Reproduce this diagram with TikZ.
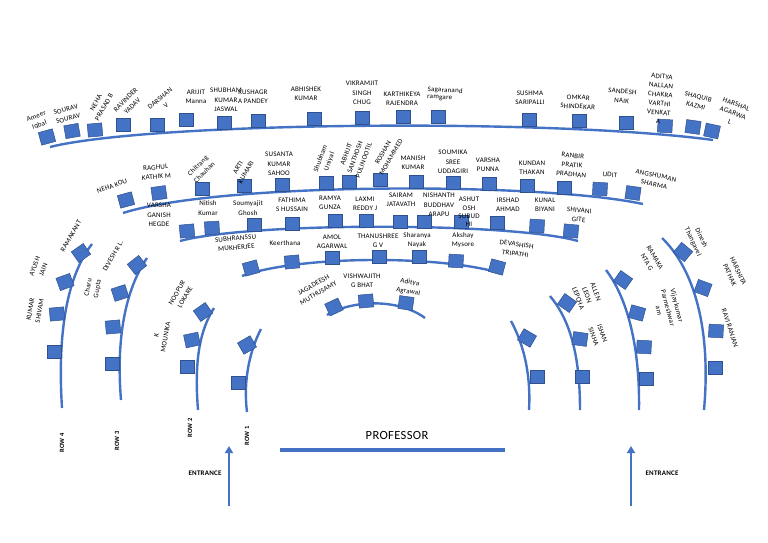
\documentclass[tikz,border=0pt]{standalone}
\usepackage{fontspec}
\setmainfont{Carlito}[LetterSpace=3]
\usetikzlibrary{arrows.meta}
\definecolor{seatblue}{HTML}{4472C4}
\definecolor{seatedge}{HTML}{2F528F}
\definecolor{lineblue}{HTML}{4472C4}
\newcommand{\lblfont}{\fontsize{7}{9.3}\selectfont}
\begin{document}
\begin{tikzpicture}[x=1pt,y=-1pt,
  seat/.style={draw=seatedge, fill=seatblue, minimum width=14.5pt, minimum height=13pt, inner sep=0pt, line width=0.5pt},
  rowline/.style={draw=lineblue, line width=2.4pt},
  lbl/.style={font=\lblfont, align=center, inner sep=0pt, text=black},
  rowlbl/.style={font=\fontsize{6.5}{7}\selectfont\bfseries, inner sep=0pt, rotate=90},
  arr/.style={draw=lineblue, line width=2.2pt, -{Triangle[length=7pt,width=8pt]}}]
\fill[white] (0,0) rectangle (768,543);
\useasboundingbox (0,0) rectangle (768,543);

% ---------- row lines ----------
\draw[rowline] (50,147) .. controls (150,122) and (550,118) .. (713,140);
\draw[rowline] (123,213) .. controls (220,182) and (540,182) .. (643,204);
\draw[rowline] (180,241) .. controls (250,222) and (510,222) .. (578,241);
\draw[rowline] (242,276) .. controls (300,255) and (445,255) .. (503,274);
\draw[rowline] (327,315) .. controls (352,300) and (398,298) .. (425,318);
% left
\draw[rowline] (92,244) .. controls (68,275) and (57,330) .. (62,408);
\draw[rowline] (147,258) .. controls (125,290) and (116,340) .. (121,400);
\draw[rowline] (214,308) .. controls (200,330) and (194,360) .. (198,410);
\draw[rowline] (261,329) .. controls (250,350) and (243,380) .. (247,412);
% right
\draw[rowline] (511,321) .. controls (524,345) and (531,375) .. (529,410);
\draw[rowline] (550,296) .. controls (570,320) and (580,355) .. (580,410);
\draw[rowline] (606,270) .. controls (625,295) and (640,340) .. (639,410);
\draw[rowline] (662,238) .. controls (690,265) and (712,320) .. (704,410);

% ---------- seats ----------
\foreach \x/\y/\r [count=\i] in {47/137/15,72/131/10,95/130/5,123/125/0,157/125/0,186/120/0,224/123/0,258/121/0,314/119/0,362/118/0,403/117/0,438/117/0,529/120/0,579/121/0,626/123/0,665/126/-3,693/127/-8,712/131/-12}
  \node[seat,rotate=\r] (a\i) at (\x,\y) {};
\foreach \x/\y/\r [count=\i] in {126/200/15,159/193/8,202/189/0,244/186/0,282/185/0,326/183/0,349/182/0,380/180/0,416/182/0,453/183/0,489/184/0,527/186/0,564/188/0,600/189/-3,633/193/-8}
  \node[seat,rotate=\r] (b\i) at (\x,\y) {};
\foreach \x/\y/\r [count=\i] in {187/231/5,212/228/3,254/225/0,292/224/0,335/221/0,366/221/0,400/222/0,424/222/0,461/222/0,497/223/0,537/226/-3,571/231/-5}
  \node[seat,rotate=\r] (c\i) at (\x,\y) {};
\foreach \x/\y/\r [count=\i] in {251/268/15,292/262/5,332/258/0,379/257/0,419/257/0,456/261/-3,497/267/-15}
  \node[seat,rotate=\r] (d\i) at (\x,\y) {};
\foreach \x/\y/\r [count=\i] in {334/307/25,366/301/5,406/303/-8}
  \node[seat,rotate=\r] (e\i) at (\x,\y) {};
% left seats
\foreach \x/\y/\r [count=\i] in {81/253/35,65/282/20,57/314/5,54/352/0}
  \node[seat,rotate=\r] (l4s\i) at (\x,\y) {};
\foreach \x/\y/\r [count=\i] in {137/265/38,120/293/18,113/327/5,112/364/0}
  \node[seat,rotate=\r] (l3s\i) at (\x,\y) {};
\foreach \x/\y/\r [count=\i] in {203/312/35,192/340/12,187/367/0}
  \node[seat,rotate=\r] (l2s\i) at (\x,\y) {};
\foreach \x/\y/\r [count=\i] in {247/345/30,238/383/0}
  \node[seat,rotate=\r] (l1s\i) at (\x,\y) {};
% right seats
\foreach \x/\y/\r [count=\i] in {527/338/-30,537/377/0}
  \node[seat,rotate=\r] (r1s\i) at (\x,\y) {};
\foreach \x/\y/\r [count=\i] in {567/303/-35,580/339/-8,582/377/0}
  \node[seat,rotate=\r] (r2s\i) at (\x,\y) {};
\foreach \x/\y/\r [count=\i] in {623/280/-35,637/313/-15,644/347/-3,646/379/0}
  \node[seat,rotate=\r] (r3s\i) at (\x,\y) {};
\foreach \x/\y/\r [count=\i] in {683/252/-40,703/288/-20,716/331/-3,715/368/0}
  \node[seat,rotate=\r] (r4s\i) at (\x,\y) {};

% ---------- top row labels ----------
\node[lbl,rotate=20] (la1) at (38,121) {Ameer\\Iqbal};
\node[lbl,rotate=15] (la2) at (67,114) {SOURAV\\SOURAV};
\node[lbl,rotate=60] (la3) at (100,105) {NEHA\\PRASAD B};
\node[lbl,rotate=45] (la4) at (129,103) {RAVINDER\\YADAV};
\node[lbl,rotate=40] (la5) at (163,102) {DARSHAN\\V};
\node[lbl] (la6) at (196,97) {ARIJIT\\Manna};
\node[lbl] (la7) at (226,100) {SHUBHAM\\KUMAR\\JASWAL};
\node[lbl] (la8) at (253,97) {KUSHAGR\\A PANDEY};
\node[lbl] (la9) at (306,94) {ABHISHEK\\KUMAR};
\node[lbl] (la10) at (362,93) {VIKRAMJIT\\SINGH\\CHUG};
\node[lbl] (la11) at (402,99) {KARTHIKEYA\\RAJENDRA};
\node[lbl,rotate=-3,align=left,font=\fontsize{7}{7}\selectfont] (la12) at (445,94) {Sagaranand\\ramgare};
\node[lbl] (la13) at (530,98) {SUSHMA\\SARIPALLI};
\node[lbl,rotate=-3] (la14) at (578,102) {OMKAR\\SHINDEKAR};
\node[lbl,rotate=-5] (la15) at (622,96) {SANDESH\\NAIK};
\node[lbl,rotate=-5,font=\fontsize{7}{9}\selectfont] (la16) at (660,99) {ADITYA\\NALLAN\\CHAKRA\\VARTHI\\VENKAT\\A};
\node[lbl,rotate=-15] (la17) at (697,101) {SHAQUIB\\KAZMI};
\node[lbl,rotate=-20] (la18) at (733,113) {HARSHAL\\AGARWA\\L};

% ---------- second row labels ----------
\node[lbl,rotate=20] (lb1) at (112,186) {NEHA KOU};
\node[lbl,rotate=5] (lb2) at (156,172) {RAGHUL\\KATHIK M};
\node[lbl,rotate=45] (lb3) at (201,169) {Chitrang\\Chauhan};
\node[lbl,rotate=60] (lb4) at (242,170) {ARTI\\KUMARI};
\node[lbl] (lb5) at (279,164) {SUSANTA\\KUMAR\\SAHOO};
\node[lbl,rotate=70] (lb6) at (325,160) {Shubham\\Uniyal};
\node[lbl,rotate=70] (lb7) at (355,157) {ABHIJIT\\SANTHOSH\\PULINOOTIL};
\node[lbl,rotate=60] (lb8) at (387,155) {ROSHAN\\MOHAMMED};
\node[lbl] (lb9) at (413,163) {MANISH\\KUMAR};
\node[lbl] (lb10) at (453,162) {SOUMIKA\\SREE\\UDDAGIRI};
\node[lbl] (lb11) at (488,165) {VARSHA\\PUNNA};
\node[lbl] (lb12) at (532,168) {KUNDAN\\THAKAN};
\node[lbl,rotate=-5] (lb13) at (572,165) {RANBIR\\PRATIK\\PRADHAN};
\node[lbl,rotate=-5] (lb14) at (610,175) {UDIT};
\node[lbl,rotate=-12] (lb15) at (655,180) {ANGSHUMAN\\SHARMA};

% ---------- third row labels ----------
\node[lbl] (lc1) at (159,215) {VARSHA\\GANISH\\HEGDE};
\node[lbl] (lc2) at (208,208) {Nitish\\Kumar};
\node[lbl] (lc3) at (248,208) {Soumyajit\\Ghosh};
\node[lbl] (lc4) at (292,205) {FATHIMA\\S HUSSAIN};
\node[lbl] (lc5) at (330,203) {RAMYA\\GUNZA};
\node[lbl] (lc6) at (365,204) {LAXMI\\REDDY J};
\node[lbl] (lc7) at (401,200) {SAIRAM\\JATAVATH};
\node[lbl] (lc8) at (439,205) {NISHANTH\\BUDDHAV\\ARAPU};
\node[lbl,font=\fontsize{7}{8.4}\selectfont] (lc9) at (469,212) {ASHUT\\OSH\\SUBUD\\HI};
\node[lbl] (lc10) at (508,205) {IRSHAD\\AHMAD};
\node[lbl] (lc11) at (545,205) {KUNAL\\BIYANI};
\node[lbl,rotate=-5] (lc12) at (579,215) {SHIVANI\\GITE};

% ---------- fourth row labels ----------
\node[lbl,rotate=5] (ld1) at (236,243) {SUBHRANSSU\\MUKHERJEE};
\node[lbl] (ld2) at (285,243) {Keerthana};
\node[lbl] (ld3) at (332,242) {AMOL\\AGARWAL};
\node[lbl] (ld4) at (378,241) {THANUSHREE\\G V};
\node[lbl] (ld5) at (417,240) {Sharanya\\Nayak};
\node[lbl] (ld6) at (463,240) {Akshay\\Mysore};
\node[lbl,rotate=-8] (ld7) at (516,249) {DEVASHISH\\TRIPATHI};

% ---------- inner row labels ----------
\node[lbl,rotate=30] (le1) at (316,289) {JAGADEESH\\MUTHUSAMY};
\node[lbl] (le2) at (362,281) {VISHWAJITH\\G BHAT};
\node[lbl,rotate=-10] (le3) at (409,287) {Aditya\\Agrawal};

% ---------- left labels ----------
\node[lbl,rotate=60] (ll1) at (71,236) {RAMAKANT};
\node[lbl,rotate=70] (ll2) at (39,268) {AYUSH\\JAIN};
\node[lbl,rotate=80] (ll3) at (35,310) {KUMAR\\SHIVAM};
\node[lbl,rotate=60] (ll4) at (113,256) {DIVESH R L.};
\node[lbl,rotate=80] (ll5) at (93,288) {Charu\\Gupta};
\node[lbl,rotate=60] (ll6) at (181,295) {NOOPUR\\LOKARE};
\node[lbl,rotate=80] (ll7) at (161,336) {K\\MOUNIKA};

% ---------- right labels ----------
\node[lbl,rotate=-65] (lr1) at (697,240) {Dinesh\\Thangavel};
\node[lbl,rotate=-65] (lr2) at (734,273) {HARSHITA\\PATHAK};
\node[lbl,rotate=-72] (lr3) at (730,328) {RAVI RANJAN};
\node[lbl,rotate=-60] (lr4) at (651,260) {RAMAKA\\NTA G};
\node[lbl,rotate=-75] (lr5) at (668,308) {Vijaykumar\\Parmeshwar\\am};
\node[lbl,rotate=-70] (lr6) at (587,295) {ALLEN\\LEON\\LEPCHA};
\node[lbl,rotate=-70] (lr7) at (598,335) {ISHAN\\SINHA};

% ---------- bottom ----------
\node[rowlbl] (row4) at (62,443) {ROW 4};
\node[rowlbl] (row3) at (117,441) {ROW 3};
\node[rowlbl] (row2) at (190,428) {ROW 2};
\node[rowlbl] (row1) at (247,436) {ROW 1};
\node[font=\fontsize{12.5}{14}\selectfont, inner sep=0pt] (prof) at (397,435) {PROFESSOR};
\coordinate (pl) at (280,450);
\coordinate (pr) at (505,450);
\draw[draw=lineblue, line width=3.2pt] (pl) -- (pr);
\node[font=\fontsize{7}{8}\selectfont\bfseries, inner sep=0pt] (entl) at (205,473) {ENTRANCE};
\node[font=\fontsize{7}{8}\selectfont\bfseries, inner sep=0pt] (entr) at (662,473) {ENTRANCE};
\coordinate (al0) at (229,506);
\coordinate (al1) at (229,446);
\coordinate (ar0) at (631,506);
\coordinate (ar1) at (631,446);
\draw[arr] (al0) -- (al1);
\draw[arr] (ar0) -- (ar1);
\end{tikzpicture}
\end{document}
